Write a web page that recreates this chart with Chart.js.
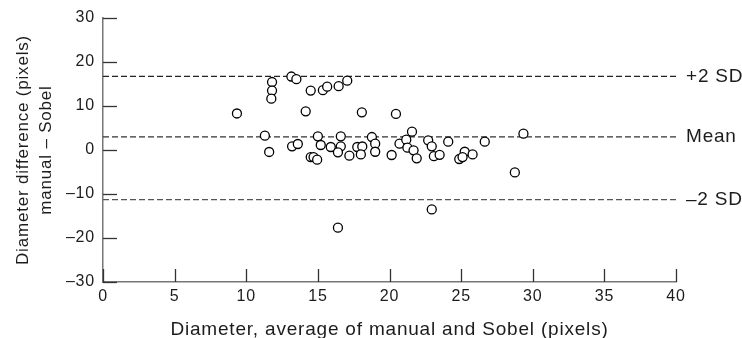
<!DOCTYPE html>
<html>
<head>
<meta charset="utf-8">
<script src="https://cdn.jsdelivr.net/npm/chart.js@4.4.1/dist/chart.umd.min.js"></script>
<style>
  html, body { margin: 0; padding: 0; background: #fff; }
  #wrap { width: 742px; height: 338px; position: relative; }
</style>
</head>
<body>
<div id="wrap"><canvas id="chart"></canvas></div>
<script>
// ---- Data ------------------------------------------------------------------
const diameters = [
  9.35, 11.8, 11.8, 11.75, 13.15, 13.5, 14.5, 14.15, 15.35, 15.65, 16.45, 17.05,
  18.07, 20.45, 29.35,
  11.3, 11.6, 13.2, 13.6, 14.5, 14.7, 14.95, 15.0, 15.2, 15.9, 16.6, 16.6, 16.4,
  17.2, 17.75, 18.1, 18.0, 18.77, 19.0, 19.0, 20.15, 20.7, 21.17, 21.57, 21.25,
  21.68, 21.9, 22.7, 22.95, 23.1, 23.5, 24.1, 26.65, 24.87, 25.25, 25.8, 25.1,
  28.75, 22.95, 16.4
];
const differences = [
  8.3, 15.45, 13.5, 11.66, 16.7, 16.1, 13.5, 8.8, 13.6, 14.4, 14.5, 15.75,
  8.56, 8.2, 3.7,
  3.25, -0.45, 0.83, 1.36, -1.6, -1.6, -2.2, 3.1, 1.14, 0.68, 3.1, 0.83, -0.53,
  -1.3, 0.68, 0.8, -1.0, 2.95, 1.44, -0.4, -1.14, 1.44, 2.35, 4.17, 0.53,
  -0.07, -1.9, 2.2, 0.83, -1.4, -1.1, 1.9, 1.9, -2.05, -0.4, -1.0, -1.6,
  -5.1, -13.5, -17.65
];
const refLevels = [16.75, 3.0, -11.3];
const refLabels = ["+2 SD", "Mean", "\u20132 SD"];
const refColors = ["#222", "#333", "#555"];
const xRange = [0, 40];
const yRange = [-30, 30];

const FONT = "'Liberation Sans', Arial, sans-serif";
const TEXT = "#1c1c1c";

// ---- Plugins -----------------------------------------------------------------
// the original type is set a little wide, so space the letters out a bit
const wideText = {
  id: "wideText",
  beforeDraw(chart) { chart.ctx.letterSpacing = "0.8px"; },
};

// ticks drawn inward from the axes, like the original figure
const inwardTicks = {
  id: "inwardTicks",
  afterDraw(chart) {
    const { ctx, scales: { x, y }, chartArea } = chart;
    ctx.save();
    ctx.strokeStyle = "#333";
    ctx.lineWidth = 1.3;
    x.ticks.forEach((t) => {
      const px = Math.round(x.getPixelForValue(t.value)) + 0.5;
      ctx.beginPath();
      ctx.moveTo(px, chartArea.bottom);
      ctx.lineTo(px, chartArea.bottom - 13);
      ctx.stroke();
    });
    y.ticks.forEach((t) => {
      const py = Math.round(y.getPixelForValue(t.value)) + 0.5;
      ctx.beginPath();
      ctx.moveTo(chartArea.left, py);
      ctx.lineTo(chartArea.left + 14, py);
      ctx.stroke();
    });
    ctx.restore();
  },
};

// "+2 SD" / "Mean" / "-2 SD" labels to the right of the dashed lines
const refText = {
  id: "refText",
  afterDraw(chart) {
    const { ctx, scales: { y }, chartArea } = chart;
    ctx.save();
    ctx.font = "19px " + FONT;
    ctx.fillStyle = TEXT;
    ctx.textBaseline = "middle";
    ctx.textAlign = "left";
    refLevels.forEach((v, i) => {
      ctx.fillText(refLabels[i], chartArea.right + 10, y.getPixelForValue(v));
    });
    ctx.restore();
  },
};

// ---- Datasets ----------------------------------------------------------------
const refSets = refLevels.map((v, i) => ({
  type: "line",
  label: refLabels[i],
  data: [{ x: xRange[0], y: v }, { x: xRange[1], y: v }],
  borderColor: refColors[i],
  borderWidth: 1.2,
  borderDash: [6, 3],
  pointRadius: 0,
  fill: false,
  order: 2,
}));

const points = diameters.map((d, i) => ({ x: d, y: differences[i] }));

new Chart(document.getElementById("chart"), {
  type: "scatter",
  data: {
    datasets: [
      ...refSets,
      {
        label: "Difference",
        data: points,
        pointStyle: "circle",
        pointRadius: 4.5,
        backgroundColor: "#fff",
        borderColor: "#000",
        borderWidth: 1.3,
        order: 1,
      },
    ],
  },
  options: {
    responsive: true,
    maintainAspectRatio: false,
    animation: false,
    layout: { padding: { top: 18, right: 66, bottom: 0, left: 0 } },
    plugins: { legend: { display: false }, tooltip: { enabled: false } },
    scales: {
      x: {
        type: "linear",
        min: xRange[0],
        max: xRange[1],
        ticks: { stepSize: 5, color: TEXT, font: { family: FONT, size: 16 }, padding: 5 },
        grid: { display: false, drawTicks: false },
        border: { display: true, color: "#777", width: 1.5 },
        title: {
          display: true,
          text: "Diameter, average of manual and Sobel (pixels)",
          color: TEXT,
          font: { family: FONT, size: 19, lineHeight: 1 },
          padding: { top: 4, bottom: -1 },
        },
        afterFit(scale) { scale.height = 56; },
      },
      y: {
        type: "linear",
        min: yRange[0],
        max: yRange[1],
        ticks: {
          stepSize: 10,
          color: TEXT,
          font: { family: FONT, size: 16 },
          padding: 8,
          callback: (v) => (v < 0 ? "\u2013" + Math.abs(v) : String(v)),
        },
        grid: { display: false, drawTicks: false },
        border: { display: true, color: "#777", width: 1.5 },
        title: {
          display: true,
          text: ["Diameter difference (pixels)", "manual \u2013 Sobel"],
          color: TEXT,
          font: { family: FONT, size: 17, lineHeight: 1.4 },
          padding: { top: 11, bottom: 0 },
        },
        afterFit(scale) { scale.width = 103; },
      },
    },
  },
  plugins: [wideText, inwardTicks, refText],
});
</script>
</body>
</html>
